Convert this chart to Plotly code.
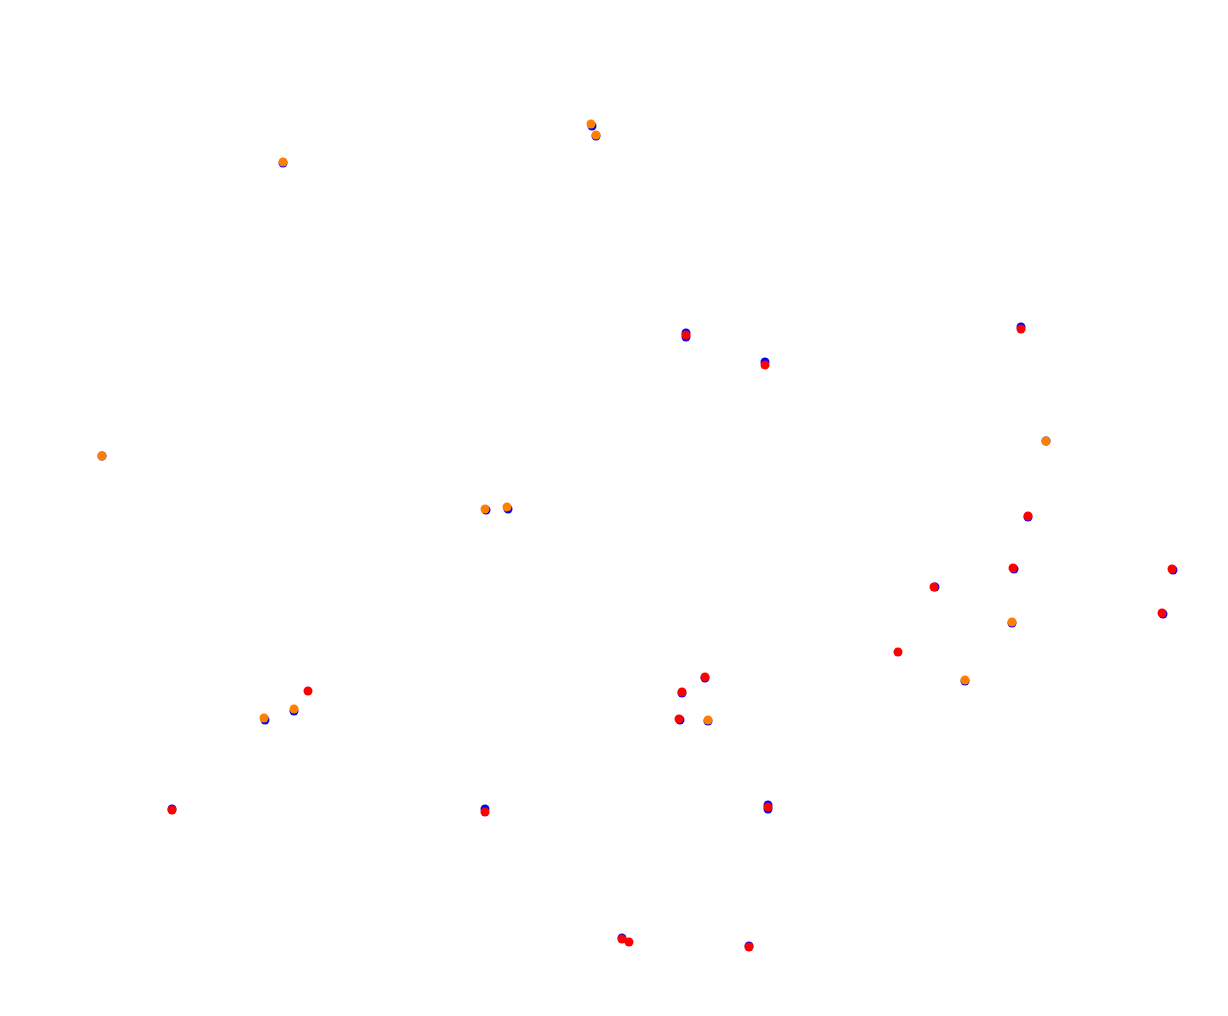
import plotly.graph_objects as go

# Blue series (all points)
blue_x = [592, 596, 283, 102, 486, 508, 1046, 265, 294, 708, 1012, 965,
          686, 686, 765, 1021, 1028, 1014, 935, 1173, 1163, 172, 485, 682, 705, 680,
          768, 768, 622, 749]
blue_y = [126, 136, 163, 456, 510, 509, 441, 720, 711, 721, 623, 681,
          333, 337, 362, 327, 517, 569, 587, 570, 614, 809, 809, 693, 678, 720,
          805, 809, 938, 946]

# Red series
red_x = [686, 765, 1021, 1028, 1013, 934, 898, 1172, 1162, 308, 172, 485, 682, 705, 679, 768, 622, 629, 749]
red_y = [335, 365, 329, 516, 568, 587, 652, 569, 613, 691, 810, 812, 692, 677, 719, 807, 939, 942, 947]

# Orange series
orange_x = [591, 596, 283, 102, 485, 507, 1046, 264, 294, 708, 1012, 965]
orange_y = [124, 135, 162, 456, 509, 507, 441, 718, 709, 720, 622, 680]

fig = go.Figure()
fig.add_trace(go.Scatter(x=blue_x, y=blue_y, mode="markers",
                         marker=dict(color="rgb(0,0,255)", size=9), showlegend=False))
fig.add_trace(go.Scatter(x=red_x, y=red_y, mode="markers",
                         marker=dict(color="rgb(255,0,0)", size=9), showlegend=False))
fig.add_trace(go.Scatter(x=orange_x, y=orange_y, mode="markers",
                         marker=dict(color="rgb(255,128,0)", size=9), showlegend=False))

fig.update_layout(
    width=1228, height=1016,
    margin=dict(l=0, r=0, t=0, b=0),
    plot_bgcolor="white", paper_bgcolor="white",
    xaxis=dict(range=[8, 1236], visible=False),
    yaxis=dict(range=[1024, 8], visible=False),
)
fig.write_html("out.html")
